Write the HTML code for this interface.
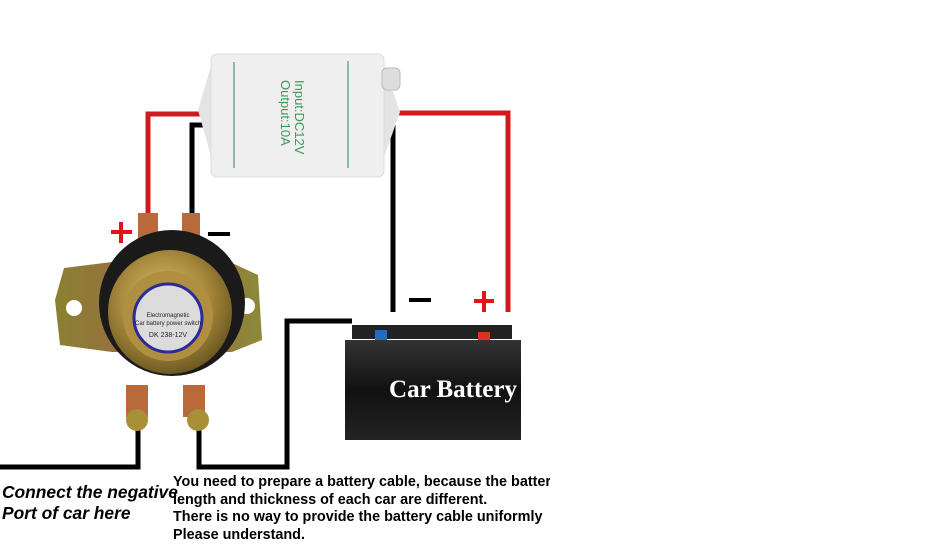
<!DOCTYPE html>
<html><head><style>
body{margin:0;background:#fff;width:950px;height:547px;overflow:hidden;position:relative;font-family:"Liberation Sans",sans-serif}
.t{position:absolute;white-space:nowrap;color:#000}
</style></head><body>
<svg width="950" height="547" style="position:absolute;left:0;top:0">
<defs>
<radialGradient id="g1" cx="45%" cy="40%" r="60%"><stop offset="0" stop-color="#d8c27a"/><stop offset="0.6" stop-color="#a8893c"/><stop offset="1" stop-color="#6d5a22"/></radialGradient>
<linearGradient id="fl" x1="0" x2="1"><stop offset="0" stop-color="#8a8030"/><stop offset="0.5" stop-color="#a06848"/><stop offset="1" stop-color="#8a8a38"/></linearGradient>
<linearGradient id="bat" x1="0" x2="0" y1="0" y2="1"><stop offset="0" stop-color="#333"/><stop offset="0.5" stop-color="#111"/><stop offset="1" stop-color="#222"/></linearGradient>
</defs>
<polyline points="148,218 148,114 215,114" fill="none" stroke="#d11a1f" stroke-width="5"/>
<polyline points="192,215 192,125 215,125" fill="none" stroke="#000" stroke-width="5"/>
<polyline points="380,113 508,113 508,312" fill="none" stroke="#d11a1f" stroke-width="5"/>
<polyline points="380,125 393,125 393,312" fill="none" stroke="#000" stroke-width="5"/>
<polyline points="138,425 138,467 0,467" fill="none" stroke="#000" stroke-width="5"/>
<polyline points="199,425 199,467 287,467 287,321 352,321" fill="none" stroke="#000" stroke-width="5"/>
<polygon points="212,62 198,110 212,160 383,160 400,112 383,62" fill="#e4e4e4"/>
<rect x="211" y="54" width="173" height="123" rx="6" fill="#efefef" stroke="#ddd"/>
<line x1="234" y1="62" x2="234" y2="168" stroke="#6a9" stroke-width="1.5"/>
<line x1="348" y1="61" x2="348" y2="168" stroke="#6a9" stroke-width="1.5"/>
<rect x="382" y="68" width="18" height="22" rx="5" fill="#ddd" stroke="#bbb"/>
<text transform="translate(295,80) rotate(90)" font-family="Liberation Sans" font-size="13" fill="#3a9a5a">Input:DC12V</text>
<text transform="translate(281,80) rotate(90)" font-family="Liberation Sans" font-size="13" fill="#3a9a5a">Output:10A</text>
<polygon points="64,268 112,262 230,262 258,275 262,340 232,352 112,352 60,345 55,300" fill="url(#fl)"/>
<circle cx="74" cy="308" r="8" fill="#fff"/>
<circle cx="247" cy="306" r="8" fill="#fff"/>
<rect x="138" y="213" width="20" height="25" fill="#b86a3a"/>
<rect x="182" y="213" width="18" height="25" fill="#b86a3a"/>
<circle cx="172" cy="303" r="73" fill="#1a1a1a"/>
<circle cx="170" cy="312" r="62" fill="url(#g1)"/>
<circle cx="168" cy="316" r="45" fill="#b09040"/>
<circle cx="168" cy="318" r="34" fill="#dcdcdc" stroke="#2a2a9a" stroke-width="3"/>
<text x="168" y="317" font-size="6" text-anchor="middle" fill="#223">Electromagnetic</text>
<text x="168" y="325" font-size="6" text-anchor="middle" fill="#223">Car battery power switch</text>
<text x="168" y="337" font-size="7" text-anchor="middle" fill="#223">DK 238-12V</text>
<rect x="126" y="385" width="22" height="32" fill="#b86a3a"/>
<rect x="183" y="385" width="22" height="32" fill="#b86a3a"/>
<circle cx="137" cy="420" r="11" fill="#a89038"/>
<circle cx="198" cy="420" r="11" fill="#a89038"/>
<rect x="352" y="325" width="160" height="14" fill="#222"/>
<rect x="375" y="330" width="12" height="10" fill="#1e6fc0"/>
<rect x="478" y="332" width="12" height="9" fill="#e03020"/>
<rect x="345" y="340" width="176" height="100" fill="url(#bat)"/>
<text x="453" y="397" font-family="Liberation Serif" font-weight="bold" font-size="25" text-anchor="middle" fill="#fff">Car Battery</text>
<g stroke="#e0141a" stroke-width="4"><line x1="111" y1="232" x2="132" y2="232"/><line x1="121" y1="222" x2="121" y2="243"/>
<line x1="474" y1="301" x2="494" y2="301"/><line x1="484" y1="291" x2="484" y2="312"/></g>
<g stroke="#000" stroke-width="4"><line x1="208" y1="234" x2="230" y2="234"/><line x1="409" y1="300" x2="431" y2="300"/></g>
</svg>
<div class="t" style="left:2px;top:482px;font-size:17.4px;font-weight:bold;font-style:italic;line-height:21px">Connect the negative<br>Port of car here</div>
<div class="t" style="left:173px;top:474px;font-size:14.4px;font-weight:bold;line-height:17.5px;width:377px;overflow:hidden">You need to prepare a battery cable, because the battery<br>length and thickness of each car are different.<br>There is no way to provide the battery cable uniformly<br>Please understand.</div>
</body></html>
